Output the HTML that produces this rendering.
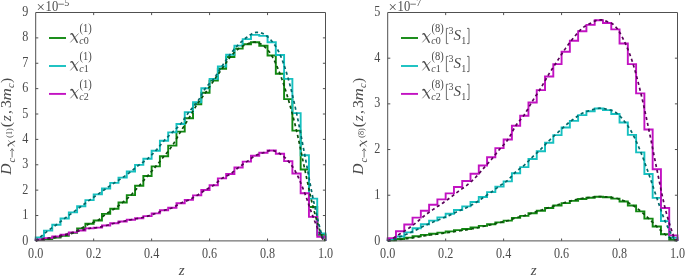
<!DOCTYPE html>
<html><head><meta charset="utf-8"><style>
html,body{margin:0;padding:0;background:#fff;width:685px;height:275px;overflow:hidden}
svg{display:block;will-change:transform}
text{font-family:"Liberation Serif", serif;fill:#4a4a4a}
.t{font-size:13.5px}
.lg{font-size:15px}
.sb{font-size:10px}
.sp{font-size:10.5px}
.yl{font-size:15.5px}
.ys{font-size:10.5px}
.yss{font-size:8.2px}
.i{font-style:italic}
</style></head><body>
<svg width="685" height="275" viewBox="0 0 685 275">
<path d="M35.70,240.90 L35.70,239.76 L43.98,239.76 L43.98,239.00 L52.26,239.00 L52.26,237.47 L60.54,237.47 L60.54,235.70 L68.82,235.70 L68.82,232.91 L77.10,232.91 L77.10,228.34 L85.38,228.34 L85.38,223.77 L93.66,223.77 L93.66,220.47 L101.94,220.47 L101.94,213.87 L110.22,213.87 L110.22,208.80 L118.50,208.80 L118.50,202.45 L126.78,202.45 L126.78,195.09 L135.06,195.09 L135.06,185.70 L143.34,185.70 L143.34,176.06 L151.62,176.06 L151.62,166.42 L159.90,166.42 L159.90,156.27 L168.18,156.27 L168.18,145.61 L176.46,145.61 L176.46,131.65 L184.74,131.65 L184.74,118.20 L193.02,118.20 L193.02,104.24 L201.30,104.24 L201.30,92.82 L209.58,92.82 L209.58,80.64 L217.86,80.64 L217.86,68.71 L226.14,68.71 L226.14,57.04 L234.42,57.04 L234.42,48.66 L242.70,48.66 L242.70,44.22 L250.98,44.22 L250.98,42.19 L259.26,42.19 L259.26,45.74 L267.54,45.74 L267.54,55.52 L275.82,55.52 L275.82,73.79 L284.10,73.79 L284.10,99.17 L292.38,99.17 L292.38,130.63 L300.66,130.63 L300.66,169.46 L308.94,169.46 L308.94,207.02 L317.22,207.02 L317.22,234.68 L325.50,234.68 L325.50,240.90" fill="none" stroke="#118811" stroke-width="1.9" stroke-linejoin="miter"/>
<path d="M35.70,240.90 L35.70,237.47 L43.98,237.47 L43.98,230.62 L52.26,230.62 L52.26,224.79 L60.54,224.79 L60.54,218.44 L68.82,218.44 L68.82,212.35 L77.10,212.35 L77.10,206.26 L85.38,206.26 L85.38,200.17 L93.66,200.17 L93.66,194.33 L101.94,194.33 L101.94,188.49 L110.22,188.49 L110.22,182.91 L118.50,182.91 L118.50,177.58 L126.78,177.58 L126.78,171.49 L135.06,171.49 L135.06,164.89 L143.34,164.89 L143.34,158.80 L151.62,158.80 L151.62,150.68 L159.90,150.68 L159.90,140.78 L168.18,140.78 L168.18,132.41 L176.46,132.41 L176.46,124.04 L184.74,124.04 L184.74,112.11 L193.02,112.11 L193.02,102.21 L201.30,102.21 L201.30,88.25 L209.58,88.25 L209.58,78.86 L217.86,78.86 L217.86,66.43 L226.14,66.43 L226.14,54.75 L234.42,54.75 L234.42,45.62 L242.70,45.62 L242.70,39.15 L250.98,39.15 L250.98,34.83 L259.26,34.83 L259.26,35.85 L267.54,35.85 L267.54,42.19 L275.82,42.19 L275.82,55.01 L284.10,55.01 L284.10,78.86 L292.38,78.86 L292.38,113.12 L300.66,113.12 L300.66,155.25 L308.94,155.25 L308.94,198.65 L317.22,198.65 L317.22,233.41 L325.50,233.41 L325.50,240.90" fill="none" stroke="#16c0c0" stroke-width="1.9" stroke-linejoin="miter"/>
<path d="M35.70,240.90 L35.70,239.50 L43.98,239.50 L43.98,238.11 L52.26,238.11 L52.26,236.46 L60.54,236.46 L60.54,234.68 L68.82,234.68 L68.82,232.40 L77.10,232.40 L77.10,230.50 L85.38,230.50 L85.38,228.34 L93.66,228.34 L93.66,227.58 L101.94,227.58 L101.94,225.55 L110.22,225.55 L110.22,223.26 L118.50,223.26 L118.50,221.49 L126.78,221.49 L126.78,219.71 L135.06,219.71 L135.06,218.19 L143.34,218.19 L143.34,216.16 L151.62,216.16 L151.62,213.37 L159.90,213.37 L159.90,210.32 L168.18,210.32 L168.18,207.78 L176.46,207.78 L176.46,203.21 L184.74,203.21 L184.74,199.91 L193.02,199.91 L193.02,195.35 L201.30,195.35 L201.30,190.02 L209.58,190.02 L209.58,185.20 L217.86,185.20 L217.86,178.34 L226.14,178.34 L226.14,174.03 L234.42,174.03 L234.42,167.43 L242.70,167.43 L242.70,161.59 L250.98,161.59 L250.98,155.76 L259.26,155.76 L259.26,152.71 L267.54,152.71 L267.54,150.43 L275.82,150.43 L275.82,153.73 L284.10,153.73 L284.10,161.09 L292.38,161.09 L292.38,173.52 L300.66,173.52 L300.66,193.32 L308.94,193.32 L308.94,216.92 L317.22,216.92 L317.22,236.71 L325.50,236.71 L325.50,240.90" fill="none" stroke="#c212c2" stroke-width="1.9" stroke-linejoin="miter"/>
<path d="M35.70,240.90 L36.19,240.75 L36.64,240.61 L37.07,240.46 L37.51,240.31 L37.98,240.16 L38.51,240.02 L39.12,239.88 L39.84,239.76 L40.68,239.65 L41.62,239.56 L42.64,239.48 L43.72,239.40 L44.83,239.32 L45.95,239.23 L47.06,239.13 L48.12,239.00 L49.16,238.84 L50.19,238.68 L51.23,238.49 L52.26,238.30 L53.30,238.10 L54.33,237.89 L55.36,237.68 L56.40,237.47 L57.44,237.27 L58.47,237.07 L59.51,236.87 L60.54,236.67 L61.58,236.45 L62.61,236.22 L63.65,235.97 L64.68,235.70 L65.72,235.41 L66.75,235.11 L67.78,234.80 L68.82,234.48 L69.86,234.13 L70.89,233.75 L71.93,233.35 L72.96,232.91 L74.00,232.42 L75.03,231.89 L76.06,231.32 L77.10,230.73 L78.13,230.13 L79.17,229.52 L80.21,228.92 L81.24,228.34 L82.28,227.76 L83.31,227.17 L84.34,226.57 L85.38,225.97 L86.41,225.39 L87.45,224.82 L88.49,224.28 L89.52,223.77 L90.56,223.32 L91.59,222.93 L92.62,222.58 L93.66,222.25 L94.69,221.89 L95.73,221.50 L96.77,221.03 L97.80,220.47 L98.84,219.79 L99.87,219.02 L100.91,218.17 L101.94,217.28 L102.97,216.38 L104.01,215.49 L105.05,214.65 L106.08,213.87 L107.11,213.17 L108.15,212.53 L109.19,211.91 L110.22,211.32 L111.26,210.73 L112.29,210.12 L113.33,209.48 L114.36,208.80 L115.39,208.07 L116.43,207.32 L117.47,206.56 L118.50,205.77 L119.54,204.96 L120.57,204.14 L121.61,203.30 L122.64,202.45 L123.67,201.60 L124.71,200.73 L125.75,199.86 L126.78,198.96 L127.81,198.05 L128.85,197.10 L129.88,196.12 L130.92,195.09 L131.95,194.02 L132.99,192.89 L134.03,191.73 L135.06,190.54 L136.10,189.33 L137.13,188.12 L138.17,186.90 L139.20,185.70 L140.24,184.51 L141.27,183.31 L142.31,182.11 L143.34,180.90 L144.38,179.69 L145.41,178.48 L146.45,177.27 L147.48,176.06 L148.52,174.86 L149.55,173.66 L150.59,172.47 L151.62,171.27 L152.66,170.07 L153.69,168.86 L154.73,167.65 L155.76,166.42 L156.80,165.18 L157.83,163.93 L158.87,162.67 L159.90,161.40 L160.94,160.13 L161.97,158.85 L163.00,157.56 L164.04,156.27 L165.07,154.98 L166.11,153.71 L167.14,152.45 L168.18,151.17 L169.21,149.87 L170.25,148.51 L171.28,147.10 L172.32,145.61 L173.36,144.02 L174.39,142.34 L175.43,140.59 L176.46,138.80 L177.50,136.99 L178.53,135.18 L179.56,133.39 L180.60,131.65 L181.63,129.95 L182.67,128.26 L183.70,126.59 L184.74,124.92 L185.78,123.26 L186.81,121.58 L187.84,119.90 L188.88,118.20 L189.92,116.46 L190.95,114.69 L191.99,112.89 L193.02,111.09 L194.06,109.31 L195.09,107.56 L196.12,105.87 L197.16,104.24 L198.19,102.70 L199.23,101.23 L200.26,99.81 L201.30,98.42 L202.34,97.05 L203.37,95.67 L204.41,94.27 L205.44,92.82 L206.48,91.33 L207.51,89.82 L208.55,88.30 L209.58,86.76 L210.62,85.22 L211.65,83.68 L212.69,82.16 L213.72,80.64 L214.75,79.13 L215.79,77.63 L216.82,76.14 L217.86,74.64 L218.90,73.15 L219.93,71.67 L220.96,70.19 L222.00,68.71 L223.04,67.22 L224.07,65.70 L225.11,64.17 L226.14,62.65 L227.18,61.16 L228.21,59.72 L229.25,58.34 L230.28,57.04 L231.31,55.81 L232.35,54.62 L233.38,53.48 L234.42,52.40 L235.45,51.37 L236.49,50.40 L237.52,49.50 L238.56,48.66 L239.59,47.90 L240.63,47.22 L241.66,46.60 L242.70,46.05 L243.73,45.54 L244.77,45.07 L245.80,44.64 L246.84,44.22 L247.88,43.81 L248.91,43.41 L249.94,43.04 L250.98,42.71 L252.02,42.44 L253.05,42.25 L254.08,42.16 L255.12,42.19 L256.15,42.33 L257.19,42.54 L258.22,42.84 L259.26,43.23 L260.30,43.71 L261.33,44.29 L262.37,44.97 L263.40,45.74 L264.44,46.61 L265.47,47.55 L266.50,48.58 L267.54,49.71 L268.58,50.96 L269.61,52.33 L270.65,53.84 L271.68,55.52 L272.72,57.34 L273.75,59.32 L274.79,61.43 L275.82,63.68 L276.86,66.04 L277.89,68.52 L278.93,71.11 L279.96,73.79 L281.00,76.58 L282.03,79.49 L283.06,82.52 L284.10,85.65 L285.14,88.89 L286.17,92.23 L287.21,95.65 L288.24,99.17 L289.28,102.76 L290.31,106.43 L291.35,110.20 L292.38,114.06 L293.42,118.03 L294.45,122.11 L295.48,126.31 L296.52,130.63 L297.56,135.14 L298.59,139.85 L299.62,144.71 L300.66,149.67 L301.69,154.67 L302.73,159.67 L303.77,164.62 L304.80,169.46 L305.83,174.28 L306.87,179.17 L307.90,184.07 L308.94,188.94 L309.97,193.72 L311.01,198.36 L312.04,202.81 L313.08,207.02 L314.14,211.10 L315.25,215.13 L316.37,219.06 L317.48,222.81 L318.56,226.31 L319.58,229.51 L320.52,232.32 L321.36,234.68 L322.08,236.49 L322.69,237.74 L323.22,238.58 L323.69,239.13 L324.13,239.51 L324.56,239.85 L325.01,240.27 L325.50,240.90" fill="none" stroke="#0a500a" stroke-width="1.7" stroke-dasharray="3.1 2.9"/>
<path d="M35.70,240.90 L36.19,240.50 L36.64,240.12 L37.07,239.77 L37.51,239.40 L37.98,239.01 L38.51,238.57 L39.12,238.07 L39.84,237.47 L40.68,236.77 L41.62,235.98 L42.64,235.11 L43.72,234.20 L44.83,233.27 L45.95,232.34 L47.06,231.45 L48.12,230.62 L49.16,229.85 L50.19,229.10 L51.23,228.38 L52.26,227.67 L53.30,226.97 L54.33,226.26 L55.36,225.53 L56.40,224.79 L57.44,224.01 L58.47,223.23 L59.51,222.43 L60.54,221.63 L61.58,220.82 L62.61,220.02 L63.65,219.23 L64.68,218.44 L65.72,217.67 L66.75,216.90 L67.78,216.14 L68.82,215.38 L69.86,214.62 L70.89,213.87 L71.93,213.11 L72.96,212.35 L74.00,211.59 L75.03,210.83 L76.06,210.07 L77.10,209.30 L78.13,208.54 L79.17,207.78 L80.21,207.02 L81.24,206.26 L82.28,205.50 L83.31,204.73 L84.34,203.96 L85.38,203.20 L86.41,202.43 L87.45,201.67 L88.49,200.92 L89.52,200.17 L90.56,199.43 L91.59,198.69 L92.62,197.96 L93.66,197.23 L94.69,196.51 L95.73,195.79 L96.77,195.06 L97.80,194.33 L98.84,193.60 L99.87,192.87 L100.91,192.13 L101.94,191.40 L102.97,190.67 L104.01,189.94 L105.05,189.21 L106.08,188.49 L107.11,187.78 L108.15,187.08 L109.19,186.37 L110.22,185.67 L111.26,184.98 L112.29,184.28 L113.33,183.60 L114.36,182.91 L115.39,182.24 L116.43,181.58 L117.47,180.93 L118.50,180.28 L119.54,179.63 L120.57,178.96 L121.61,178.28 L122.64,177.58 L123.67,176.86 L124.71,176.13 L125.75,175.38 L126.78,174.62 L127.81,173.85 L128.85,173.07 L129.88,172.28 L130.92,171.49 L131.95,170.69 L132.99,169.87 L134.03,169.03 L135.06,168.19 L136.10,167.35 L137.13,166.52 L138.17,165.70 L139.20,164.89 L140.24,164.12 L141.27,163.38 L142.31,162.66 L143.34,161.94 L144.38,161.21 L145.41,160.46 L146.45,159.66 L147.48,158.80 L148.52,157.90 L149.55,156.96 L150.59,155.98 L151.62,154.98 L152.66,153.95 L153.69,152.88 L154.73,151.80 L155.76,150.68 L156.80,149.52 L157.83,148.30 L158.87,147.03 L159.90,145.75 L160.94,144.46 L161.97,143.19 L163.00,141.96 L164.04,140.78 L165.07,139.66 L166.11,138.58 L167.14,137.53 L168.18,136.50 L169.21,135.48 L170.25,134.47 L171.28,133.45 L172.32,132.41 L173.36,131.39 L174.39,130.40 L175.43,129.43 L176.46,128.44 L177.50,127.44 L178.53,126.38 L179.56,125.25 L180.60,124.04 L181.63,122.70 L182.67,121.26 L183.70,119.73 L184.74,118.17 L185.78,116.59 L186.81,115.03 L187.84,113.53 L188.88,112.11 L189.92,110.80 L190.95,109.59 L191.99,108.43 L193.02,107.29 L194.06,106.13 L195.09,104.92 L196.12,103.63 L197.16,102.21 L198.19,100.63 L199.23,98.90 L200.26,97.07 L201.30,95.20 L202.34,93.33 L203.37,91.51 L204.41,89.80 L205.44,88.25 L206.48,86.87 L207.51,85.65 L208.55,84.52 L209.58,83.45 L210.62,82.39 L211.65,81.30 L212.69,80.13 L213.72,78.83 L214.75,77.41 L215.79,75.90 L216.82,74.33 L217.86,72.72 L218.90,71.09 L219.93,69.46 L220.96,67.85 L222.00,66.29 L223.04,64.75 L224.07,63.20 L225.11,61.65 L226.14,60.12 L227.18,58.60 L228.21,57.12 L229.25,55.68 L230.28,54.29 L231.31,52.95 L232.35,51.63 L233.38,50.36 L234.42,49.11 L235.45,47.90 L236.49,46.74 L237.52,45.61 L238.56,44.52 L239.59,43.48 L240.63,42.48 L241.66,41.51 L242.70,40.59 L243.73,39.70 L244.77,38.85 L245.80,38.05 L246.84,37.28 L247.88,36.53 L248.91,35.78 L249.94,35.06 L250.98,34.38 L252.02,33.77 L253.05,33.25 L254.08,32.84 L255.12,32.55 L256.15,32.39 L257.19,32.32 L258.22,32.34 L259.26,32.46 L260.30,32.68 L261.33,32.98 L262.37,33.37 L263.40,33.85 L264.44,34.42 L265.47,35.07 L266.50,35.80 L267.54,36.63 L268.58,37.56 L269.61,38.58 L270.65,39.71 L271.68,40.94 L272.72,42.25 L273.75,43.61 L274.79,45.06 L275.82,46.62 L276.86,48.31 L277.89,50.16 L278.93,52.20 L279.96,54.45 L281.00,56.89 L282.03,59.51 L283.06,62.30 L284.10,65.26 L285.14,68.38 L286.17,71.66 L287.21,75.09 L288.24,78.68 L289.28,82.44 L290.31,86.38 L291.35,90.50 L292.38,94.76 L293.42,99.17 L294.45,103.70 L295.48,108.34 L296.52,113.08 L297.56,117.97 L298.59,123.05 L299.62,128.27 L300.66,133.60 L301.69,139.00 L302.73,144.43 L303.77,149.86 L304.80,155.24 L305.83,160.67 L306.87,166.21 L307.90,171.81 L308.94,177.41 L309.97,182.95 L311.01,188.37 L312.04,193.62 L313.08,198.65 L314.14,203.59 L315.25,208.58 L316.37,213.51 L317.48,218.27 L318.56,222.75 L319.58,226.84 L320.52,230.43 L321.36,233.41 L322.08,235.65 L322.69,237.20 L323.22,238.22 L323.69,238.86 L324.13,239.29 L324.56,239.67 L325.01,240.15 L325.50,240.90" fill="none" stroke="#006a6a" stroke-width="1.7" stroke-dasharray="3.1 2.9"/>
<path d="M35.70,240.90 L36.19,240.73 L36.64,240.55 L37.07,240.38 L37.51,240.20 L37.98,240.03 L38.51,239.85 L39.12,239.68 L39.84,239.50 L40.68,239.33 L41.62,239.16 L42.64,238.99 L43.72,238.82 L44.83,238.65 L45.95,238.48 L47.06,238.30 L48.12,238.11 L49.16,237.92 L50.19,237.72 L51.23,237.51 L52.26,237.31 L53.30,237.10 L54.33,236.89 L55.36,236.67 L56.40,236.46 L57.44,236.25 L58.47,236.04 L59.51,235.82 L60.54,235.61 L61.58,235.39 L62.61,235.17 L63.65,234.93 L64.68,234.68 L65.72,234.42 L66.75,234.14 L67.78,233.85 L68.82,233.55 L69.86,233.25 L70.89,232.95 L71.93,232.67 L72.96,232.40 L74.00,232.14 L75.03,231.90 L76.06,231.67 L77.10,231.44 L78.13,231.21 L79.17,230.98 L80.21,230.74 L81.24,230.50 L82.28,230.23 L83.31,229.94 L84.34,229.64 L85.38,229.35 L86.41,229.06 L87.45,228.79 L88.49,228.54 L89.52,228.34 L90.56,228.18 L91.59,228.08 L92.62,228.01 L93.66,227.95 L94.69,227.89 L95.73,227.82 L96.77,227.72 L97.80,227.58 L98.84,227.39 L99.87,227.16 L100.91,226.92 L101.94,226.66 L102.97,226.38 L104.01,226.10 L105.05,225.82 L106.08,225.55 L107.11,225.27 L108.15,224.98 L109.19,224.69 L110.22,224.39 L111.26,224.09 L112.29,223.80 L113.33,223.53 L114.36,223.26 L115.39,223.02 L116.43,222.78 L117.47,222.56 L118.50,222.34 L119.54,222.13 L120.57,221.92 L121.61,221.70 L122.64,221.49 L123.67,221.26 L124.71,221.04 L125.75,220.81 L126.78,220.58 L127.81,220.36 L128.85,220.14 L129.88,219.92 L130.92,219.71 L131.95,219.51 L132.99,219.32 L134.03,219.14 L135.06,218.96 L136.10,218.78 L137.13,218.60 L138.17,218.40 L139.20,218.19 L140.24,217.96 L141.27,217.73 L142.31,217.50 L143.34,217.25 L144.38,217.00 L145.41,216.73 L146.45,216.45 L147.48,216.16 L148.52,215.85 L149.55,215.52 L150.59,215.18 L151.62,214.82 L152.66,214.46 L153.69,214.10 L154.73,213.73 L155.76,213.37 L156.80,212.99 L157.83,212.61 L158.87,212.22 L159.90,211.83 L160.94,211.44 L161.97,211.05 L163.00,210.68 L164.04,210.32 L165.07,209.99 L166.11,209.70 L167.14,209.42 L168.18,209.15 L169.21,208.86 L170.25,208.55 L171.28,208.19 L172.32,207.78 L173.36,207.30 L174.39,206.75 L175.43,206.16 L176.46,205.55 L177.50,204.92 L178.53,204.31 L179.56,203.74 L180.60,203.21 L181.63,202.75 L182.67,202.33 L183.70,201.94 L184.74,201.56 L185.78,201.19 L186.81,200.80 L187.84,200.38 L188.88,199.91 L189.92,199.41 L190.95,198.88 L191.99,198.33 L193.02,197.76 L194.06,197.17 L195.09,196.57 L196.12,195.96 L197.16,195.35 L198.19,194.71 L199.23,194.06 L200.26,193.38 L201.30,192.70 L202.34,192.01 L203.37,191.33 L204.41,190.66 L205.44,190.02 L206.48,189.40 L207.51,188.82 L208.55,188.26 L209.58,187.70 L210.62,187.13 L211.65,186.53 L212.69,185.89 L213.72,185.20 L214.75,184.42 L215.79,183.57 L216.82,182.66 L217.86,181.74 L218.90,180.82 L219.93,179.93 L220.96,179.09 L222.00,178.34 L223.04,177.70 L224.07,177.14 L225.11,176.64 L226.14,176.17 L227.18,175.70 L228.21,175.21 L229.25,174.66 L230.28,174.03 L231.31,173.31 L232.35,172.52 L233.38,171.69 L234.42,170.83 L235.45,169.95 L236.49,169.08 L237.52,168.24 L238.56,167.43 L239.59,166.67 L240.63,165.92 L241.66,165.19 L242.70,164.47 L243.73,163.75 L244.77,163.04 L245.80,162.32 L246.84,161.59 L247.88,160.85 L248.91,160.07 L249.94,159.28 L250.98,158.50 L252.02,157.74 L253.05,157.02 L254.08,156.35 L255.12,155.76 L256.15,155.24 L257.19,154.78 L258.22,154.38 L259.26,154.01 L260.30,153.68 L261.33,153.35 L262.37,153.04 L263.40,152.71 L264.44,152.35 L265.47,151.96 L266.50,151.55 L267.54,151.17 L268.58,150.84 L269.61,150.59 L270.65,150.44 L271.68,150.43 L272.72,150.55 L273.75,150.77 L274.79,151.08 L275.82,151.48 L276.86,151.95 L277.89,152.49 L278.93,153.08 L279.96,153.73 L281.00,154.42 L282.03,155.16 L283.06,155.97 L284.10,156.84 L285.14,157.78 L286.17,158.79 L287.21,159.90 L288.24,161.09 L289.28,162.35 L290.31,163.67 L291.35,165.05 L292.38,166.53 L293.42,168.10 L294.45,169.78 L295.48,171.58 L296.52,173.52 L297.56,175.62 L298.59,177.86 L299.62,180.24 L300.66,182.72 L301.69,185.29 L302.73,187.93 L303.77,190.61 L304.80,193.32 L305.83,196.11 L306.87,199.04 L307.90,202.06 L308.94,205.12 L309.97,208.18 L311.01,211.20 L312.04,214.12 L313.08,216.92 L314.14,219.68 L315.25,222.50 L316.37,225.31 L317.48,228.03 L318.56,230.60 L319.58,232.95 L320.52,235.01 L321.36,236.71 L322.08,237.98 L322.69,238.86 L323.22,239.43 L323.69,239.78 L324.13,240.02 L324.56,240.22 L325.01,240.48 L325.50,240.90" fill="none" stroke="#5a005a" stroke-width="1.7" stroke-dasharray="3.1 2.9"/>
<path d="M387.70,240.90 L387.70,240.35 L395.98,240.35 L395.98,238.98 L404.26,238.98 L404.26,237.61 L412.54,237.61 L412.54,236.24 L420.82,236.24 L420.82,234.87 L429.10,234.87 L429.10,233.68 L437.38,233.68 L437.38,232.59 L445.66,232.59 L445.66,231.40 L453.94,231.40 L453.94,230.12 L462.22,230.12 L462.22,228.93 L470.50,228.93 L470.50,227.47 L478.78,227.47 L478.78,225.83 L487.06,225.83 L487.06,224.18 L495.34,224.18 L495.34,222.35 L503.62,222.35 L503.62,220.62 L511.90,220.62 L511.90,217.88 L520.18,217.88 L520.18,215.87 L528.46,215.87 L528.46,213.22 L536.74,213.22 L536.74,210.75 L545.02,210.75 L545.02,208.01 L553.30,208.01 L553.30,205.54 L561.58,205.54 L561.58,203.08 L569.86,203.08 L569.86,200.88 L578.14,200.88 L578.14,198.97 L586.42,198.97 L586.42,197.69 L594.70,197.69 L594.70,196.77 L602.98,196.77 L602.98,197.32 L611.26,197.32 L611.26,198.60 L619.54,198.60 L619.54,201.43 L627.82,201.43 L627.82,205.54 L636.10,205.54 L636.10,211.39 L644.38,211.39 L644.38,218.61 L652.66,218.61 L652.66,226.56 L660.94,226.56 L660.94,234.32 L669.22,234.32 L669.22,239.80 L677.50,239.80 L677.50,240.90" fill="none" stroke="#118811" stroke-width="1.9" stroke-linejoin="miter"/>
<path d="M387.70,240.90 L387.70,239.26 L395.98,239.26 L395.98,236.51 L404.26,236.51 L404.26,232.40 L412.54,232.40 L412.54,228.29 L420.82,228.29 L420.82,224.18 L429.10,224.18 L429.10,220.62 L437.38,220.62 L437.38,217.33 L445.66,217.33 L445.66,213.77 L453.94,213.77 L453.94,209.93 L462.22,209.93 L462.22,206.37 L470.50,206.37 L470.50,201.98 L478.78,201.98 L478.78,197.05 L487.06,197.05 L487.06,192.11 L495.34,192.11 L495.34,186.63 L503.62,186.63 L503.62,181.42 L511.90,181.42 L511.90,173.20 L520.18,173.20 L520.18,167.17 L528.46,167.17 L528.46,158.95 L536.74,158.95 L536.74,151.28 L545.02,151.28 L545.02,142.78 L553.30,142.78 L553.30,135.11 L561.58,135.11 L561.58,127.43 L569.86,127.43 L569.86,120.85 L578.14,120.85 L578.14,115.10 L586.42,115.10 L586.42,111.26 L594.70,111.26 L594.70,108.52 L602.98,108.52 L602.98,110.16 L611.26,110.16 L611.26,114.00 L619.54,114.00 L619.54,122.50 L627.82,122.50 L627.82,134.83 L636.10,134.83 L636.10,152.37 L644.38,152.37 L644.38,174.02 L652.66,174.02 L652.66,197.87 L660.94,197.87 L660.94,221.17 L669.22,221.17 L669.22,237.61 L677.50,237.61 L677.50,240.90" fill="none" stroke="#16c0c0" stroke-width="1.9" stroke-linejoin="miter"/>
<path d="M387.70,240.90 L387.70,238.16 L395.98,238.16 L395.98,231.31 L404.26,231.31 L404.26,224.46 L412.54,224.46 L412.54,217.60 L420.82,217.60 L420.82,210.75 L429.10,210.75 L429.10,204.81 L437.38,204.81 L437.38,199.33 L445.66,199.33 L445.66,193.39 L453.94,193.39 L453.94,187.00 L462.22,187.00 L462.22,181.06 L470.50,181.06 L470.50,173.75 L478.78,173.75 L478.78,165.53 L487.06,165.53 L487.06,157.31 L495.34,157.31 L495.34,148.17 L503.62,148.17 L503.62,139.49 L511.90,139.49 L511.90,125.79 L520.18,125.79 L520.18,115.74 L528.46,115.74 L528.46,102.49 L536.74,102.49 L536.74,90.16 L545.02,90.16 L545.02,76.45 L553.30,76.45 L553.30,64.12 L561.58,64.12 L561.58,51.78 L569.86,51.78 L569.86,40.82 L578.14,40.82 L578.14,31.23 L586.42,31.23 L586.42,24.83 L594.70,24.83 L594.70,20.27 L602.98,20.27 L602.98,23.01 L611.26,23.01 L611.26,29.40 L619.54,29.40 L619.54,43.56 L627.82,43.56 L627.82,64.12 L636.10,64.12 L636.10,93.35 L644.38,93.35 L644.38,129.44 L652.66,129.44 L652.66,169.18 L660.94,169.18 L660.94,208.01 L669.22,208.01 L669.22,235.42 L677.50,235.42 L677.50,240.90" fill="none" stroke="#c212c2" stroke-width="1.9" stroke-linejoin="miter"/>
<path d="M387.70,240.90 L388.19,240.86 L388.64,240.82 L389.07,240.78 L389.51,240.75 L389.98,240.71 L390.51,240.66 L391.12,240.59 L391.84,240.51 L392.68,240.42 L393.62,240.30 L394.64,240.17 L395.72,240.03 L396.83,239.89 L397.95,239.75 L399.06,239.61 L400.12,239.47 L401.15,239.34 L402.19,239.22 L403.22,239.09 L404.26,238.96 L405.29,238.84 L406.33,238.70 L407.37,238.57 L408.40,238.43 L409.44,238.28 L410.47,238.13 L411.50,237.97 L412.54,237.81 L413.57,237.65 L414.61,237.48 L415.64,237.32 L416.68,237.15 L417.71,236.99 L418.75,236.81 L419.78,236.64 L420.82,236.46 L421.86,236.29 L422.89,236.12 L423.93,235.95 L424.96,235.78 L426.00,235.63 L427.03,235.47 L428.06,235.32 L429.10,235.17 L430.13,235.03 L431.17,234.88 L432.20,234.74 L433.24,234.60 L434.27,234.46 L435.31,234.32 L436.34,234.18 L437.38,234.05 L438.41,233.91 L439.45,233.78 L440.49,233.64 L441.52,233.50 L442.56,233.36 L443.59,233.21 L444.62,233.07 L445.66,232.92 L446.69,232.77 L447.73,232.62 L448.76,232.47 L449.80,232.31 L450.83,232.16 L451.87,232.00 L452.90,231.84 L453.94,231.67 L454.97,231.51 L456.01,231.35 L457.04,231.19 L458.08,231.03 L459.12,230.88 L460.15,230.74 L461.19,230.59 L462.22,230.45 L463.25,230.31 L464.29,230.16 L465.32,230.01 L466.36,229.85 L467.39,229.68 L468.43,229.51 L469.46,229.33 L470.50,229.16 L471.53,228.97 L472.57,228.78 L473.61,228.59 L474.64,228.38 L475.67,228.17 L476.71,227.95 L477.75,227.71 L478.78,227.48 L479.81,227.24 L480.85,227.00 L481.88,226.76 L482.92,226.52 L483.95,226.29 L484.99,226.06 L486.02,225.83 L487.06,225.60 L488.10,225.37 L489.13,225.14 L490.17,224.90 L491.20,224.66 L492.24,224.41 L493.27,224.16 L494.31,223.90 L495.34,223.64 L496.38,223.38 L497.41,223.12 L498.44,222.87 L499.48,222.61 L500.51,222.37 L501.55,222.14 L502.59,221.92 L503.62,221.69 L504.65,221.46 L505.69,221.21 L506.73,220.95 L507.76,220.66 L508.80,220.34 L509.83,219.99 L510.87,219.62 L511.90,219.23 L512.93,218.85 L513.97,218.47 L515.00,218.11 L516.04,217.78 L517.08,217.49 L518.11,217.22 L519.14,216.96 L520.18,216.71 L521.21,216.47 L522.25,216.22 L523.28,215.95 L524.32,215.66 L525.36,215.34 L526.39,215.01 L527.42,214.66 L528.46,214.30 L529.50,213.94 L530.53,213.59 L531.56,213.23 L532.60,212.89 L533.63,212.56 L534.67,212.24 L535.70,211.92 L536.74,211.61 L537.77,211.29 L538.81,210.97 L539.85,210.65 L540.88,210.31 L541.91,209.96 L542.95,209.61 L543.99,209.25 L545.02,208.88 L546.06,208.52 L547.09,208.15 L548.12,207.80 L549.16,207.45 L550.19,207.12 L551.23,206.79 L552.26,206.46 L553.30,206.14 L554.34,205.82 L555.37,205.51 L556.40,205.19 L557.44,204.87 L558.48,204.55 L559.51,204.23 L560.54,203.90 L561.58,203.58 L562.62,203.27 L563.65,202.95 L564.68,202.65 L565.72,202.35 L566.75,202.06 L567.79,201.77 L568.83,201.49 L569.86,201.21 L570.89,200.94 L571.93,200.68 L572.96,200.42 L574.00,200.17 L575.03,199.92 L576.07,199.67 L577.11,199.42 L578.14,199.19 L579.17,198.96 L580.21,198.74 L581.25,198.54 L582.28,198.35 L583.31,198.19 L584.35,198.04 L585.38,197.91 L586.42,197.79 L587.45,197.68 L588.49,197.57 L589.52,197.47 L590.56,197.37 L591.60,197.26 L592.63,197.15 L593.66,197.04 L594.70,196.94 L595.73,196.85 L596.77,196.77 L597.80,196.71 L598.84,196.68 L599.88,196.67 L600.91,196.68 L601.94,196.71 L602.98,196.75 L604.01,196.81 L605.05,196.88 L606.09,196.95 L607.12,197.03 L608.15,197.11 L609.19,197.19 L610.22,197.28 L611.26,197.37 L612.30,197.49 L613.33,197.63 L614.37,197.80 L615.40,198.01 L616.43,198.25 L617.47,198.53 L618.50,198.84 L619.54,199.17 L620.58,199.53 L621.61,199.90 L622.64,200.30 L623.68,200.72 L624.72,201.15 L625.75,201.60 L626.78,202.07 L627.82,202.56 L628.86,203.08 L629.89,203.62 L630.93,204.20 L631.96,204.81 L633.00,205.47 L634.03,206.15 L635.07,206.87 L636.10,207.62 L637.13,208.40 L638.17,209.20 L639.21,210.02 L640.24,210.86 L641.27,211.72 L642.31,212.61 L643.35,213.52 L644.38,214.46 L645.41,215.41 L646.45,216.38 L647.48,217.35 L648.52,218.33 L649.56,219.33 L650.59,220.35 L651.62,221.38 L652.66,222.42 L653.69,223.46 L654.73,224.50 L655.77,225.53 L656.80,226.54 L657.84,227.55 L658.87,228.57 L659.90,229.59 L660.94,230.60 L661.97,231.59 L663.01,232.55 L664.04,233.46 L665.08,234.32 L666.14,235.15 L667.25,235.96 L668.37,236.74 L669.48,237.48 L670.56,238.17 L671.58,238.80 L672.52,239.34 L673.36,239.80 L674.08,240.15 L674.69,240.39 L675.22,240.54 L675.69,240.63 L676.13,240.68 L676.56,240.73 L677.01,240.79 L677.50,240.90" fill="none" stroke="#0a500a" stroke-width="1.7" stroke-dasharray="3.1 2.9"/>
<path d="M387.70,240.90 L388.19,240.77 L388.64,240.66 L389.07,240.55 L389.51,240.45 L389.98,240.32 L390.51,240.17 L391.12,239.98 L391.84,239.74 L392.68,239.45 L393.62,239.10 L394.64,238.72 L395.72,238.30 L396.83,237.87 L397.95,237.44 L399.06,237.02 L400.12,236.61 L401.15,236.23 L402.19,235.85 L403.22,235.47 L404.26,235.09 L405.29,234.71 L406.33,234.31 L407.37,233.90 L408.40,233.48 L409.44,233.04 L410.47,232.58 L411.50,232.11 L412.54,231.63 L413.57,231.15 L414.61,230.65 L415.64,230.16 L416.68,229.66 L417.71,229.16 L418.75,228.64 L419.78,228.12 L420.82,227.59 L421.86,227.07 L422.89,226.55 L423.93,226.04 L424.96,225.55 L426.00,225.08 L427.03,224.62 L428.06,224.16 L429.10,223.72 L430.13,223.28 L431.17,222.85 L432.20,222.42 L433.24,221.99 L434.27,221.57 L435.31,221.15 L436.34,220.75 L437.38,220.34 L438.41,219.94 L439.45,219.53 L440.49,219.12 L441.52,218.70 L442.56,218.27 L443.59,217.83 L444.62,217.40 L445.66,216.95 L446.69,216.50 L447.73,216.05 L448.76,215.60 L449.80,215.14 L450.83,214.67 L451.87,214.19 L452.90,213.71 L453.94,213.22 L454.97,212.73 L456.01,212.25 L457.04,211.77 L458.08,211.30 L459.12,210.85 L460.15,210.41 L461.19,209.98 L462.22,209.55 L463.25,209.12 L464.29,208.68 L465.32,208.22 L466.36,207.74 L467.39,207.24 L468.43,206.73 L469.46,206.20 L470.50,205.67 L471.53,205.12 L472.57,204.55 L473.61,203.96 L474.64,203.35 L475.67,202.71 L476.71,202.04 L477.75,201.34 L478.78,200.63 L479.81,199.91 L480.85,199.19 L481.88,198.47 L482.92,197.77 L483.95,197.07 L484.99,196.38 L486.02,195.69 L487.06,195.01 L488.10,194.31 L489.13,193.61 L490.17,192.90 L491.20,192.18 L492.24,191.44 L493.27,190.68 L494.31,189.91 L495.34,189.13 L496.38,188.35 L497.41,187.57 L498.44,186.80 L499.48,186.04 L500.51,185.32 L501.55,184.63 L502.59,183.95 L503.62,183.27 L504.65,182.57 L505.69,181.84 L506.73,181.05 L507.76,180.18 L508.80,179.22 L509.83,178.17 L510.87,177.05 L511.90,175.90 L512.93,174.75 L513.97,173.62 L515.00,172.54 L516.04,171.55 L517.08,170.66 L518.11,169.85 L519.14,169.08 L520.18,168.34 L521.21,167.61 L522.25,166.85 L523.28,166.05 L524.32,165.18 L525.36,164.23 L526.39,163.22 L527.42,162.18 L528.46,161.11 L529.50,160.03 L530.53,158.96 L531.56,157.90 L532.60,156.88 L533.63,155.89 L534.67,154.92 L535.70,153.97 L536.74,153.02 L537.77,152.07 L538.81,151.11 L539.85,150.14 L540.88,149.13 L541.91,148.09 L542.95,147.03 L543.99,145.94 L545.02,144.85 L546.06,143.75 L547.09,142.66 L548.12,141.60 L549.16,140.56 L550.19,139.55 L551.23,138.56 L552.26,137.59 L553.30,136.62 L554.34,135.67 L555.37,134.72 L556.40,133.77 L557.44,132.81 L558.48,131.85 L559.51,130.88 L560.54,129.91 L561.58,128.95 L562.62,128.00 L563.65,127.06 L564.68,126.14 L565.72,125.24 L566.75,124.37 L567.79,123.51 L568.83,122.67 L569.86,121.84 L570.89,121.03 L571.93,120.24 L572.96,119.46 L574.00,118.71 L575.03,117.96 L576.07,117.21 L577.11,116.47 L578.14,115.76 L579.17,115.07 L580.21,114.42 L581.25,113.81 L582.28,113.26 L583.31,112.76 L584.35,112.32 L585.38,111.93 L586.42,111.57 L587.45,111.23 L588.49,110.92 L589.52,110.61 L590.56,110.30 L591.60,109.98 L592.63,109.65 L593.66,109.32 L594.70,109.02 L595.73,108.75 L596.77,108.52 L597.80,108.34 L598.84,108.24 L599.88,108.21 L600.91,108.25 L601.94,108.33 L602.98,108.46 L604.01,108.63 L605.05,108.84 L606.09,109.06 L607.12,109.30 L608.15,109.54 L609.19,109.78 L610.22,110.03 L611.26,110.32 L612.30,110.66 L613.33,111.08 L614.37,111.60 L615.40,112.22 L616.43,112.96 L617.47,113.79 L618.50,114.71 L619.54,115.71 L620.58,116.78 L621.61,117.91 L622.64,119.11 L623.68,120.36 L624.72,121.66 L625.75,123.00 L626.78,124.41 L627.82,125.88 L628.86,127.43 L629.89,129.06 L630.93,130.80 L631.96,132.64 L633.00,134.60 L634.03,136.66 L635.07,138.82 L636.10,141.07 L637.13,143.40 L638.17,145.80 L639.21,148.26 L640.24,150.77 L641.27,153.35 L642.31,156.02 L643.35,158.77 L644.38,161.58 L645.41,164.44 L646.45,167.34 L647.48,170.26 L648.52,173.20 L649.56,176.18 L650.59,179.24 L651.62,182.33 L652.66,185.46 L653.69,188.59 L654.73,191.71 L655.77,194.80 L656.80,197.83 L657.84,200.86 L658.87,203.92 L659.90,206.98 L660.94,210.01 L661.97,212.98 L663.01,215.85 L664.04,218.59 L665.08,221.17 L666.14,223.64 L667.25,226.07 L668.37,228.42 L669.48,230.64 L670.56,232.71 L671.58,234.59 L672.52,236.23 L673.36,237.61 L674.08,238.65 L674.69,239.36 L675.22,239.81 L675.69,240.08 L676.13,240.24 L676.56,240.39 L677.01,240.58 L677.50,240.90" fill="none" stroke="#006a6a" stroke-width="1.7" stroke-dasharray="3.1 2.9"/>
<path d="M387.70,240.90 L388.19,240.68 L388.64,240.50 L389.07,240.32 L389.51,240.14 L389.98,239.94 L390.51,239.69 L391.12,239.37 L391.84,238.97 L392.68,238.48 L393.62,237.90 L394.64,237.26 L395.72,236.57 L396.83,235.86 L397.95,235.14 L399.06,234.43 L400.12,233.75 L401.15,233.11 L402.19,232.48 L403.22,231.85 L404.26,231.22 L405.29,230.58 L406.33,229.92 L407.37,229.24 L408.40,228.53 L409.44,227.80 L410.47,227.03 L411.50,226.25 L412.54,225.45 L413.57,224.64 L414.61,223.82 L415.64,223.00 L416.68,222.17 L417.71,221.33 L418.75,220.47 L419.78,219.60 L420.82,218.72 L421.86,217.84 L422.89,216.98 L423.93,216.14 L424.96,215.32 L426.00,214.53 L427.03,213.76 L428.06,213.01 L429.10,212.26 L430.13,211.53 L431.17,210.81 L432.20,210.09 L433.24,209.38 L434.27,208.68 L435.31,207.99 L436.34,207.31 L437.38,206.64 L438.41,205.97 L439.45,205.29 L440.49,204.60 L441.52,203.90 L442.56,203.18 L443.59,202.46 L444.62,201.73 L445.66,200.99 L446.69,200.24 L447.73,199.49 L448.76,198.73 L449.80,197.96 L450.83,197.18 L451.87,196.38 L452.90,195.58 L453.94,194.76 L454.97,193.95 L456.01,193.14 L457.04,192.35 L458.08,191.57 L459.12,190.81 L460.15,190.08 L461.19,189.37 L462.22,188.65 L463.25,187.93 L464.29,187.20 L465.32,186.43 L466.36,185.63 L467.39,184.79 L468.43,183.94 L469.46,183.07 L470.50,182.18 L471.53,181.27 L472.57,180.32 L473.61,179.34 L474.64,178.32 L475.67,177.25 L476.71,176.13 L477.75,174.97 L478.78,173.79 L479.81,172.59 L480.85,171.38 L481.88,170.19 L482.92,169.01 L483.95,167.85 L484.99,166.70 L486.02,165.56 L487.06,164.41 L488.10,163.26 L489.13,162.09 L490.17,160.91 L491.20,159.70 L492.24,158.46 L493.27,157.20 L494.31,155.91 L495.34,154.62 L496.38,153.32 L497.41,152.02 L498.44,150.74 L499.48,149.47 L500.51,148.26 L501.55,147.11 L502.59,145.98 L503.62,144.85 L504.65,143.69 L505.69,142.46 L506.73,141.15 L507.76,139.71 L508.80,138.11 L509.83,136.35 L510.87,134.49 L511.90,132.57 L512.93,130.64 L513.97,128.76 L515.00,126.97 L516.04,125.32 L517.08,123.84 L518.11,122.48 L519.14,121.20 L520.18,119.97 L521.21,118.75 L522.25,117.49 L523.28,116.15 L524.32,114.69 L525.36,113.11 L526.39,111.44 L527.42,109.70 L528.46,107.92 L529.50,106.12 L530.53,104.33 L531.56,102.57 L532.60,100.87 L533.63,99.22 L534.67,97.60 L535.70,96.02 L536.74,94.44 L537.77,92.85 L538.81,91.26 L539.85,89.63 L540.88,87.95 L541.91,86.22 L542.95,84.44 L543.99,82.64 L545.02,80.81 L546.06,78.98 L547.09,77.17 L548.12,75.40 L549.16,73.67 L550.19,71.99 L551.23,70.34 L552.26,68.71 L553.30,67.11 L554.34,65.51 L555.37,63.93 L556.40,62.34 L557.44,60.75 L558.48,59.15 L559.51,57.54 L560.54,55.92 L561.58,54.32 L562.62,52.73 L563.65,51.16 L564.68,49.63 L565.72,48.13 L566.75,46.68 L567.79,45.25 L568.83,43.84 L569.86,42.47 L570.89,41.12 L571.93,39.80 L572.96,38.51 L574.00,37.24 L575.03,35.99 L576.07,34.75 L577.11,33.52 L578.14,32.33 L579.17,31.18 L580.21,30.10 L581.25,29.09 L582.28,28.16 L583.31,27.34 L584.35,26.60 L585.38,25.94 L586.42,25.34 L587.45,24.79 L588.49,24.26 L589.52,23.75 L590.56,23.23 L591.60,22.69 L592.63,22.15 L593.66,21.61 L594.70,21.10 L595.73,20.64 L596.77,20.26 L597.80,19.97 L598.84,19.81 L599.88,19.76 L600.91,19.81 L601.94,19.95 L602.98,20.17 L604.01,20.46 L605.05,20.79 L606.09,21.17 L607.12,21.57 L608.15,21.97 L609.19,22.37 L610.22,22.79 L611.26,23.27 L612.30,23.84 L613.33,24.54 L614.37,25.39 L615.40,26.44 L616.43,27.67 L617.47,29.06 L618.50,30.58 L619.54,32.25 L620.58,34.03 L621.61,35.92 L622.64,37.92 L623.68,40.00 L624.72,42.17 L625.75,44.41 L626.78,46.75 L627.82,49.20 L628.86,51.78 L629.89,54.51 L630.93,57.40 L631.96,60.47 L633.00,63.73 L634.03,67.17 L635.07,70.77 L636.10,74.52 L637.13,78.40 L638.17,82.39 L639.21,86.49 L640.24,90.68 L641.27,94.98 L642.31,99.44 L643.35,104.01 L644.38,108.70 L645.41,113.46 L646.45,118.30 L647.48,123.17 L648.52,128.07 L649.56,133.04 L650.59,138.13 L651.62,143.29 L652.66,148.50 L653.69,153.72 L654.73,158.92 L655.77,164.06 L656.80,169.12 L657.84,174.16 L658.87,179.26 L659.90,184.36 L660.94,189.42 L661.97,194.36 L663.01,199.15 L664.04,203.71 L665.08,208.01 L666.14,212.14 L667.25,216.18 L668.37,220.09 L669.48,223.80 L670.56,227.25 L671.58,230.38 L672.52,233.12 L673.36,235.42 L674.08,237.15 L674.69,238.33 L675.22,239.08 L675.69,239.53 L676.13,239.81 L676.56,240.04 L677.01,240.36 L677.50,240.90" fill="none" stroke="#5a005a" stroke-width="1.7" stroke-dasharray="3.1 2.9"/>
<path d="M35.7,12.5 H325.5 V240.9 H35.7 Z" fill="none" stroke="#505050" stroke-width="1"/>
<text transform="translate(28.40,244.50) scale(0.9,1.13)" text-anchor="end" class="t">0</text>
<path d="M35.7,215.52 h2.6 M325.5,215.52 h-2.6" stroke="#505050" stroke-width="1"/>
<text transform="translate(28.40,219.12) scale(0.9,1.13)" text-anchor="end" class="t">1</text>
<path d="M35.7,190.14 h2.6 M325.5,190.14 h-2.6" stroke="#505050" stroke-width="1"/>
<text transform="translate(28.40,193.74) scale(0.9,1.13)" text-anchor="end" class="t">2</text>
<path d="M35.7,164.77 h2.6 M325.5,164.77 h-2.6" stroke="#505050" stroke-width="1"/>
<text transform="translate(28.40,168.37) scale(0.9,1.13)" text-anchor="end" class="t">3</text>
<path d="M35.7,139.39 h2.6 M325.5,139.39 h-2.6" stroke="#505050" stroke-width="1"/>
<text transform="translate(28.40,142.99) scale(0.9,1.13)" text-anchor="end" class="t">4</text>
<path d="M35.7,114.01 h2.6 M325.5,114.01 h-2.6" stroke="#505050" stroke-width="1"/>
<text transform="translate(28.40,117.61) scale(0.9,1.13)" text-anchor="end" class="t">5</text>
<path d="M35.7,88.63 h2.6 M325.5,88.63 h-2.6" stroke="#505050" stroke-width="1"/>
<text transform="translate(28.40,92.23) scale(0.9,1.13)" text-anchor="end" class="t">6</text>
<path d="M35.7,63.26 h2.6 M325.5,63.26 h-2.6" stroke="#505050" stroke-width="1"/>
<text transform="translate(28.40,66.86) scale(0.9,1.13)" text-anchor="end" class="t">7</text>
<path d="M35.7,37.88 h2.6 M325.5,37.88 h-2.6" stroke="#505050" stroke-width="1"/>
<text transform="translate(28.40,41.48) scale(0.9,1.13)" text-anchor="end" class="t">8</text>
<text transform="translate(28.40,16.10) scale(0.9,1.13)" text-anchor="end" class="t">9</text>
<text transform="translate(35.70,257.6) scale(0.9,1.13)" text-anchor="middle" class="t">0.0</text>
<path d="M93.66,240.9 v-2.4 M93.66,12.5 v2.6" stroke="#505050" stroke-width="1"/>
<text transform="translate(93.66,257.6) scale(0.9,1.13)" text-anchor="middle" class="t">0.2</text>
<path d="M151.62,240.9 v-2.4 M151.62,12.5 v2.6" stroke="#505050" stroke-width="1"/>
<text transform="translate(151.62,257.6) scale(0.9,1.13)" text-anchor="middle" class="t">0.4</text>
<path d="M209.58,240.9 v-2.4 M209.58,12.5 v2.6" stroke="#505050" stroke-width="1"/>
<text transform="translate(209.58,257.6) scale(0.9,1.13)" text-anchor="middle" class="t">0.6</text>
<path d="M267.54,240.9 v-2.4 M267.54,12.5 v2.6" stroke="#505050" stroke-width="1"/>
<text transform="translate(267.54,257.6) scale(0.9,1.13)" text-anchor="middle" class="t">0.8</text>
<text transform="translate(325.50,257.6) scale(0.9,1.13)" text-anchor="middle" class="t">1.0</text>
<text x="181.7" y="274.5" text-anchor="middle" class="i" style="font-size:15px">z</text>
<path d="M387.7,12.5 H677.5 V240.9 H387.7 Z" fill="none" stroke="#505050" stroke-width="1"/>
<text transform="translate(380.40,244.50) scale(0.9,1.13)" text-anchor="end" class="t">0</text>
<path d="M387.7,195.22 h2.6 M677.5,195.22 h-2.6" stroke="#505050" stroke-width="1"/>
<text transform="translate(380.40,198.82) scale(0.9,1.13)" text-anchor="end" class="t">1</text>
<path d="M387.7,149.54 h2.6 M677.5,149.54 h-2.6" stroke="#505050" stroke-width="1"/>
<text transform="translate(380.40,153.14) scale(0.9,1.13)" text-anchor="end" class="t">2</text>
<path d="M387.7,103.86 h2.6 M677.5,103.86 h-2.6" stroke="#505050" stroke-width="1"/>
<text transform="translate(380.40,107.46) scale(0.9,1.13)" text-anchor="end" class="t">3</text>
<path d="M387.7,58.18 h2.6 M677.5,58.18 h-2.6" stroke="#505050" stroke-width="1"/>
<text transform="translate(380.40,61.78) scale(0.9,1.13)" text-anchor="end" class="t">4</text>
<text transform="translate(380.40,16.10) scale(0.9,1.13)" text-anchor="end" class="t">5</text>
<text transform="translate(387.70,257.6) scale(0.9,1.13)" text-anchor="middle" class="t">0.0</text>
<path d="M445.66,240.9 v-2.4 M445.66,12.5 v2.6" stroke="#505050" stroke-width="1"/>
<text transform="translate(445.66,257.6) scale(0.9,1.13)" text-anchor="middle" class="t">0.2</text>
<path d="M503.62,240.9 v-2.4 M503.62,12.5 v2.6" stroke="#505050" stroke-width="1"/>
<text transform="translate(503.62,257.6) scale(0.9,1.13)" text-anchor="middle" class="t">0.4</text>
<path d="M561.58,240.9 v-2.4 M561.58,12.5 v2.6" stroke="#505050" stroke-width="1"/>
<text transform="translate(561.58,257.6) scale(0.9,1.13)" text-anchor="middle" class="t">0.6</text>
<path d="M619.54,240.9 v-2.4 M619.54,12.5 v2.6" stroke="#505050" stroke-width="1"/>
<text transform="translate(619.54,257.6) scale(0.9,1.13)" text-anchor="middle" class="t">0.8</text>
<text transform="translate(677.50,257.6) scale(0.9,1.13)" text-anchor="middle" class="t">1.0</text>
<text x="533.7" y="274.5" text-anchor="middle" class="i" style="font-size:15px">z</text>
<text x="36.4" y="12.1" style="font-size:15px">×</text><text transform="translate(45.6,10.9) scale(0.9,1)" style="font-size:14px">10</text><path d="M58.3,4.2 H63.9" stroke="#4a4a4a" stroke-width="0.75"/><text x="64.3" y="5.9" class="sb">5</text>
<text x="388.4" y="12.1" style="font-size:15px">×</text><text transform="translate(397.6,10.9) scale(0.9,1)" style="font-size:14px">10</text><path d="M410.3,4.2 H415.9" stroke="#4a4a4a" stroke-width="0.75"/><text x="416.3" y="5.9" class="sb">7</text>
<path d="M49,38.0 h17" stroke="#118811" stroke-width="1.9"/>
<g transform="translate(70.30,33.30) scale(1.0)"><path d="M0.6,0.8 C1.1,0.1 1.9,0.1 2.4,1.0 L6.9,9.0" fill="none" stroke="#4a4a4a" stroke-width="1.40" stroke-linecap="round"/><path d="M8.2,0.2 L0.1,9.1" fill="none" stroke="#4a4a4a" stroke-width="0.65"/></g>
<text x="79.3" y="44.00" class="sb"><tspan class="i">c</tspan>0</text>
<text transform="translate(79.4,32.00) scale(1,1.22)" class="sp">(1)</text>
<path d="M49,66.0 h17" stroke="#16c0c0" stroke-width="1.9"/>
<g transform="translate(70.30,61.30) scale(1.0)"><path d="M0.6,0.8 C1.1,0.1 1.9,0.1 2.4,1.0 L6.9,9.0" fill="none" stroke="#4a4a4a" stroke-width="1.40" stroke-linecap="round"/><path d="M8.2,0.2 L0.1,9.1" fill="none" stroke="#4a4a4a" stroke-width="0.65"/></g>
<text x="79.3" y="72.00" class="sb"><tspan class="i">c</tspan>1</text>
<text transform="translate(79.4,60.00) scale(1,1.22)" class="sp">(1)</text>
<path d="M49,93.9 h17" stroke="#c212c2" stroke-width="1.9"/>
<g transform="translate(70.30,89.20) scale(1.0)"><path d="M0.6,0.8 C1.1,0.1 1.9,0.1 2.4,1.0 L6.9,9.0" fill="none" stroke="#4a4a4a" stroke-width="1.40" stroke-linecap="round"/><path d="M8.2,0.2 L0.1,9.1" fill="none" stroke="#4a4a4a" stroke-width="0.65"/></g>
<text x="79.3" y="99.90" class="sb"><tspan class="i">c</tspan>2</text>
<text transform="translate(79.4,87.90) scale(1,1.22)" class="sp">(1)</text>
<path d="M401,38.0 h17" stroke="#118811" stroke-width="1.9"/>
<g transform="translate(422.30,33.30) scale(1.0)"><path d="M0.6,0.8 C1.1,0.1 1.9,0.1 2.4,1.0 L6.9,9.0" fill="none" stroke="#4a4a4a" stroke-width="1.40" stroke-linecap="round"/><path d="M8.2,0.2 L0.1,9.1" fill="none" stroke="#4a4a4a" stroke-width="0.65"/></g>
<text x="431.3" y="44.00" class="sb"><tspan class="i">c</tspan>0</text>
<text transform="translate(431.4,32.00) scale(1,1.22)" class="sp">(8)</text>
<path d="M448.4,28.40 h-2.0 v15.2 h2.0 M467.0,28.40 h2.0 v15.2 h-2.0" fill="none" stroke="#4a4a4a" stroke-width="0.8"/><text x="448.6" y="34.40" class="sb">3</text><text x="453.6" y="40.20" class="lg i">S</text><text x="461.2" y="43.70" class="sb">1</text>
<path d="M401,66.0 h17" stroke="#16c0c0" stroke-width="1.9"/>
<g transform="translate(422.30,61.30) scale(1.0)"><path d="M0.6,0.8 C1.1,0.1 1.9,0.1 2.4,1.0 L6.9,9.0" fill="none" stroke="#4a4a4a" stroke-width="1.40" stroke-linecap="round"/><path d="M8.2,0.2 L0.1,9.1" fill="none" stroke="#4a4a4a" stroke-width="0.65"/></g>
<text x="431.3" y="72.00" class="sb"><tspan class="i">c</tspan>1</text>
<text transform="translate(431.4,60.00) scale(1,1.22)" class="sp">(8)</text>
<path d="M448.4,56.40 h-2.0 v15.2 h2.0 M467.0,56.40 h2.0 v15.2 h-2.0" fill="none" stroke="#4a4a4a" stroke-width="0.8"/><text x="448.6" y="62.40" class="sb">3</text><text x="453.6" y="68.20" class="lg i">S</text><text x="461.2" y="71.70" class="sb">1</text>
<path d="M401,93.9 h17" stroke="#c212c2" stroke-width="1.9"/>
<g transform="translate(422.30,89.20) scale(1.0)"><path d="M0.6,0.8 C1.1,0.1 1.9,0.1 2.4,1.0 L6.9,9.0" fill="none" stroke="#4a4a4a" stroke-width="1.40" stroke-linecap="round"/><path d="M8.2,0.2 L0.1,9.1" fill="none" stroke="#4a4a4a" stroke-width="0.65"/></g>
<text x="431.3" y="99.90" class="sb"><tspan class="i">c</tspan>2</text>
<text transform="translate(431.4,87.90) scale(1,1.22)" class="sp">(8)</text>
<path d="M448.4,84.30 h-2.0 v15.2 h2.0 M467.0,84.30 h2.0 v15.2 h-2.0" fill="none" stroke="#4a4a4a" stroke-width="0.8"/><text x="448.6" y="90.30" class="sb">3</text><text x="453.6" y="96.10" class="lg i">S</text><text x="461.2" y="99.60" class="sb">1</text>
<g transform="translate(11.4,174.5) rotate(-90)"><text x="-0.30" y="0.00" class="yl i">D</text><text x="11.90" y="3.60" class="ys i">c</text><path d="M17.0,0.7 H25.4 M23.6,-1.3 Q24.6,0.2 25.9,0.7 Q24.6,1.2 23.6,2.7" fill="none" stroke="#4a4a4a" stroke-width="0.75"/><g transform="translate(28.10,-3.50) scale(0.75)"><path d="M0.6,0.8 C1.1,0.1 1.9,0.1 2.4,1.0 L6.9,9.0" fill="none" stroke="#4a4a4a" stroke-width="1.54" stroke-linecap="round"/><path d="M8.2,0.2 L0.1,9.1" fill="none" stroke="#4a4a4a" stroke-width="0.72"/></g><text x="36.70" y="0.50" class="yss">(1)</text><text x="47.30" y="0.00" class="yl">(</text><text x="53.20" y="0.00" class="yl i">z</text><text x="60.60" y="0.00" class="yl">,</text><text x="66.60" y="0.00" class="yl">3</text><text transform="translate(74.0,0) scale(1.1,1)" class="yl i">m</text><text x="86.60" y="2.30" class="ys i">c</text><text x="91.60" y="0.00" class="yl">)</text></g>
<g transform="translate(363.4,174.5) rotate(-90)"><text x="-0.30" y="0.00" class="yl i">D</text><text x="11.90" y="3.60" class="ys i">c</text><path d="M17.0,0.7 H25.4 M23.6,-1.3 Q24.6,0.2 25.9,0.7 Q24.6,1.2 23.6,2.7" fill="none" stroke="#4a4a4a" stroke-width="0.75"/><g transform="translate(28.10,-3.50) scale(0.75)"><path d="M0.6,0.8 C1.1,0.1 1.9,0.1 2.4,1.0 L6.9,9.0" fill="none" stroke="#4a4a4a" stroke-width="1.54" stroke-linecap="round"/><path d="M8.2,0.2 L0.1,9.1" fill="none" stroke="#4a4a4a" stroke-width="0.72"/></g><text x="36.70" y="0.50" class="yss">(8)</text><text x="47.30" y="0.00" class="yl">(</text><text x="53.20" y="0.00" class="yl i">z</text><text x="60.60" y="0.00" class="yl">,</text><text x="66.60" y="0.00" class="yl">3</text><text transform="translate(74.0,0) scale(1.1,1)" class="yl i">m</text><text x="86.60" y="2.30" class="ys i">c</text><text x="91.60" y="0.00" class="yl">)</text></g>
</svg>
</body></html>
